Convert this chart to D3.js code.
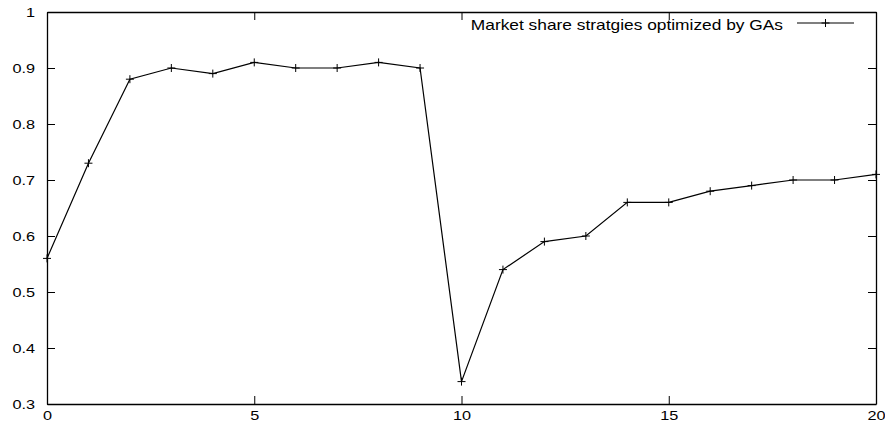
<!DOCTYPE html>
<html>
<head>
<meta charset="utf-8">
<script src="https://cdn.jsdelivr.net/npm/d3@7"></script>
<style>
  body { margin: 0; background: #fff; }
  text { font-family: "Liberation Sans", Arial, sans-serif; font-size: 13px; fill: #000; }
</style>
</head>
<body>
<div class="chart"></div>
<script>
// data
const generations = d3.range(0, 21);
const marketShare = [0.56, 0.73, 0.88, 0.90, 0.89, 0.91, 0.90, 0.90, 0.91, 0.90,
                     0.34, 0.54, 0.59, 0.60, 0.66, 0.66, 0.68, 0.69, 0.70, 0.70, 0.71];
const xTicks = [0, 5, 10, 15, 20];
const yTicks = [0.3, 0.4, 0.5, 0.6, 0.7, 0.8, 0.9, 1];
const seriesName = 'Market share stratgies optimized by GAs';

const width = 885, height = 423;
const margin = {top: 12, right: 9, bottom: 19, left: 47};
const stretch = 1.25; // the reference glyphs are wider than they are tall

const svg = d3.select('.chart')
    .append('svg')
    .attr('width', width)
    .attr('height', height);

const x = d3.scaleLinear().domain([0, 20]).range([margin.left, width - margin.right]);
const y = d3.scaleLinear().domain([0.3, 1]).range([height - margin.bottom, margin.top]);

const tickLen = 8;
const fmt = d => (d === 1 ? '1' : d3.format('.1f')(d));

// axes, ticks pointing inward and mirrored on the opposite side
svg.append('g')
    .attr('transform', `translate(0,${y(0.3)})`)
    .call(d3.axisBottom(x).tickValues(xTicks).tickSizeInner(-tickLen).tickSizeOuter(0).tickPadding(7));
svg.append('g')
    .attr('transform', `translate(0,${y(1)})`)
    .call(d3.axisTop(x).tickValues(xTicks).tickSizeInner(-tickLen).tickSizeOuter(0).tickFormat(''));
svg.append('g')
    .attr('transform', `translate(${x(0)},0)`)
    .call(d3.axisLeft(y).tickValues(yTicks).tickSizeInner(-tickLen).tickSizeOuter(0).tickPadding(9.6).tickFormat(fmt));
svg.append('g')
    .attr('transform', `translate(${x(20)},0)`)
    .call(d3.axisRight(y).tickValues(yTicks).tickSizeInner(-tickLen).tickSizeOuter(0).tickFormat(''));

svg.selectAll('.domain').attr('stroke', '#000').attr('stroke-width', 1.3);
svg.selectAll('.tick line').attr('stroke', '#000');
svg.selectAll('.tick text')
    .style('font-family', '"Liberation Sans", Arial, sans-serif')
    .style('font-size', '13px')
    .attr('fill', '#000')
    .attr('transform', `scale(${stretch},1)`);

const line = d3.line()
    .x((d, i) => x(generations[i]))
    .y(d => y(d));

svg.append('path')
    .datum(marketShare)
    .attr('fill', 'none')
    .attr('stroke', '#000')
    .attr('stroke-width', 1.2)
    .attr('d', line);

const cross = 4;
const pts = svg.append('g').selectAll('g')
    .data(marketShare)
    .enter()
    .append('g')
    .attr('transform', (d, i) => `translate(${x(generations[i])},${y(d)})`);
pts.append('line').attr('x1', -cross).attr('x2', cross).attr('stroke', '#000');
pts.append('line').attr('y1', -cross).attr('y2', cross).attr('stroke', '#000');

// legend
const legendY = 24;
svg.append('text')
    .attr('transform', `translate(783,30) scale(1.24,1)`)
    .style('font-size', '14px')
    .style('text-anchor', 'end')
    .text(seriesName);
svg.append('line')
    .attr('x1', 797).attr('x2', 854)
    .attr('y1', legendY - 1).attr('y2', legendY - 1)
    .attr('stroke', '#000').attr('stroke-width', 1.2);
svg.append('line')
    .attr('x1', 825.5 - cross).attr('x2', 825.5 + cross)
    .attr('y1', legendY - 1).attr('y2', legendY - 1)
    .attr('stroke', '#000');
svg.append('line')
    .attr('x1', 825.5).attr('x2', 825.5)
    .attr('y1', legendY - 1 - cross).attr('y2', legendY - 1 + cross)
    .attr('stroke', '#000');
</script>
</body>
</html>
